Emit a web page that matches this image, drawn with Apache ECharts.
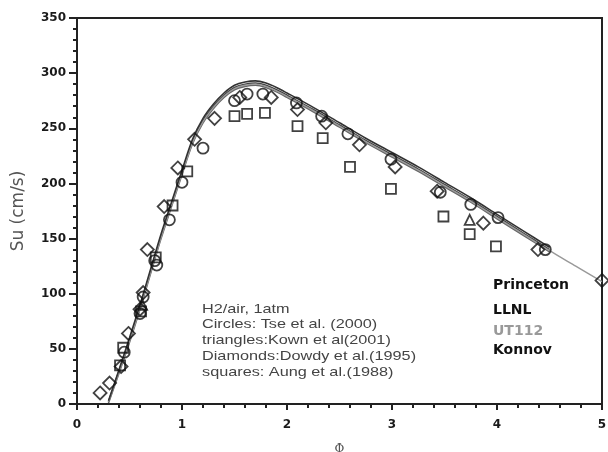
<!DOCTYPE html>
<html>
<head>
<meta charset="utf-8">
<script src="https://cdn.jsdelivr.net/npm/echarts@6/dist/echarts.min.js"></script>
<style>
  html, body { margin: 0; padding: 0; background: #fff; }
  #chart { width: 608px; height: 452px; }
</style>
</head>
<body>
<div id="chart"></div>
<script>
// model curves (phi, Su)
var phiModel = [0.3, 0.4, 0.5, 0.6, 0.7, 0.8, 0.9, 1.0, 1.1, 1.2, 1.3, 1.4, 1.5, 1.6, 1.7, 1.8, 1.9, 2.0, 2.25, 2.5, 2.75, 3.0, 3.25, 3.5, 3.75, 4.0, 4.25, 4.5]
var princeton = [2, 30, 58, 88, 120, 152, 181, 210, 238, 257, 270, 280, 287, 290, 291, 289, 285, 280, 267, 253, 239, 226, 213, 199, 185, 170, 155, 140]
var llnl      = [1, 28, 56, 86, 118, 150, 179, 208, 236, 255, 268, 278, 285, 288, 289, 287, 283, 278, 265, 251, 237, 224, 211, 197, 183, 168, 153, 138]
var konnov    = [3, 31, 60, 90, 122, 154, 183, 212, 240, 259, 272, 282, 289, 292, 293, 291, 287, 282, 269, 255, 241, 228, 215, 201, 187, 172, 157, 142]
var phiUT = phiModel.concat([4.75, 5.0])
var ut112     = [2, 29, 57, 87, 119, 151, 180, 209, 237, 256, 269, 279, 286, 289, 290, 288, 284, 279, 266, 252, 238, 225, 212, 198, 184, 169, 154, 139, 125, 111]

// experiments
var circlesPhi = [0.45, 0.6, 0.63, 0.74, 0.76, 0.88, 1.0, 1.2, 1.5, 1.62, 1.77, 2.09, 2.33, 2.58, 2.99, 3.46, 3.75, 4.01, 4.46]
var circlesSu  = [47, 82, 97, 130, 126, 167, 201, 232, 275, 281, 281, 273, 261, 245, 222, 192, 181, 169, 140]
var trianglesPhi = [0.62, 3.74]
var trianglesSu  = [90, 167]
var diamondsPhi = [0.22, 0.31, 0.42, 0.49, 0.6, 0.63, 0.67, 0.83, 0.96, 1.12, 1.31, 1.55, 1.85, 2.1, 2.37, 2.69, 3.03, 3.43, 3.87, 4.39, 5.0]
var diamondsSu  = [10, 19, 34, 64, 86, 101, 140, 179, 214, 240, 259, 278, 278, 267, 255, 235, 215, 193, 164, 140, 112]
var squaresPhi = [0.41, 0.44, 0.61, 0.75, 0.91, 1.05, 1.5, 1.62, 1.79, 2.1, 2.34, 2.6, 2.99, 3.49, 3.74, 3.99]
var squaresSu  = [35, 51, 84, 133, 180, 211, 261, 263, 264, 252, 241, 215, 195, 170, 154, 143]

var noteLines = ['H2/air, 1atm', 'Circles: Tse et al. (2000)', 'triangles:Kown et al(2001)', 'Diamonds:Dowdy et al.(1995)', 'squares: Aung et al.(1988)']
var modelNames = ['Princeton', 'LLNL', 'UT112', 'Konnov']

function pairs(xs, ys) {
  return xs.map(function (x, i) { return [x, ys[i]] })
}

var chart = echarts.init(document.getElementById('chart'))

function lineSeries(name, xs, ys, color, width) {
  return {
    name: name, type: 'line', data: pairs(xs, ys), smooth: 0.3,
    showSymbol: false, silent: true,
    lineStyle: { color: color, width: width }
  }
}
function markSeries(name, xs, ys, symbol, size) {
  return {
    name: name, type: 'scatter', data: pairs(xs, ys), symbol: symbol, symbolSize: size,
    itemStyle: { color: 'rgba(255,255,255,0)', borderColor: '#111', borderWidth: 1.8 },
    z: 5
  }
}

var axisLbl = { color: '#1a1a1a', fontSize: 12, fontWeight: 'bold', fontFamily: 'DejaVu Sans' }

var option = {
  animation: false,
  backgroundColor: '#fff',
  grid: {
    left: 77, right: 6, top: 18, bottom: 48, outerBoundsMode: 'none',
    show: true, borderColor: '#222', borderWidth: 2, backgroundColor: 'transparent'
  },
  xAxis: {
    type: 'value', min: 0, max: 5, interval: 1,
    name: 'Φ', nameLocation: 'middle', nameGap: 40,
    nameTextStyle: { color: '#555', fontSize: 12, fontFamily: 'DejaVu Serif' },
    axisLine: { show: true, lineStyle: { color: '#222', width: 2 } },
    axisTick: { show: true, length: 6, lineStyle: { color: '#222', width: 2 } },
    minorTick: { show: true, splitNumber: 5, length: 4, lineStyle: { color: '#222', width: 2 } },
    splitLine: { show: false },
    axisLabel: Object.assign({ margin: 15 }, axisLbl)
  },
  yAxis: {
    type: 'value', min: 0, max: 350, interval: 50,
    name: 'Su (cm/s)', nameLocation: 'middle', nameGap: 50,
    nameTextStyle: { color: '#555', fontSize: 17, fontFamily: 'DejaVu Sans' },
    axisLine: { show: true, lineStyle: { color: '#222', width: 2 } },
    axisTick: { show: true, length: 8, lineStyle: { color: '#222', width: 2 } },
    minorTick: { show: true, splitNumber: 5, length: 4, lineStyle: { color: '#222', width: 2 } },
    splitLine: { show: false },
    axisLabel: Object.assign({ margin: 11 }, axisLbl)
  },
  series: [
    lineSeries('Princeton', phiModel, princeton, '#444', 1.6),
    lineSeries('LLNL', phiModel, llnl, '#666', 1.6),
    lineSeries('UT112', phiUT, ut112, '#999', 1.4),
    lineSeries('Konnov', phiModel, konnov, '#333', 1.6),
    markSeries('circles', circlesPhi, circlesSu, 'circle', 11),
    markSeries('triangles', trianglesPhi, trianglesSu, 'triangle', 10),
    markSeries('diamonds', diamondsPhi, diamondsSu, 'diamond', 13),
    markSeries('squares', squaresPhi, squaresSu, 'rect', 10)
  ],
  graphic: noteLines.map(function (t, i) {
    return {
      type: 'text', x: 202, y: 309 + i * 15.8, scaleX: 1.25,
      style: { text: t, fill: '#444', font: '13px "Liberation Sans"', verticalAlign: 'middle' }
    }
  }).concat(modelNames.map(function (t, i) {
    var fill = t === 'UT112' ? '#999' : '#111'
    return {
      type: 'text', x: 493, y: [285, 310, 331, 350][i],
      style: { text: t, fill: fill, font: 'bold 14px "DejaVu Sans"', verticalAlign: 'middle' }
    }
  }))
}
chart.setOption(option)
</script>
</body>
</html>
